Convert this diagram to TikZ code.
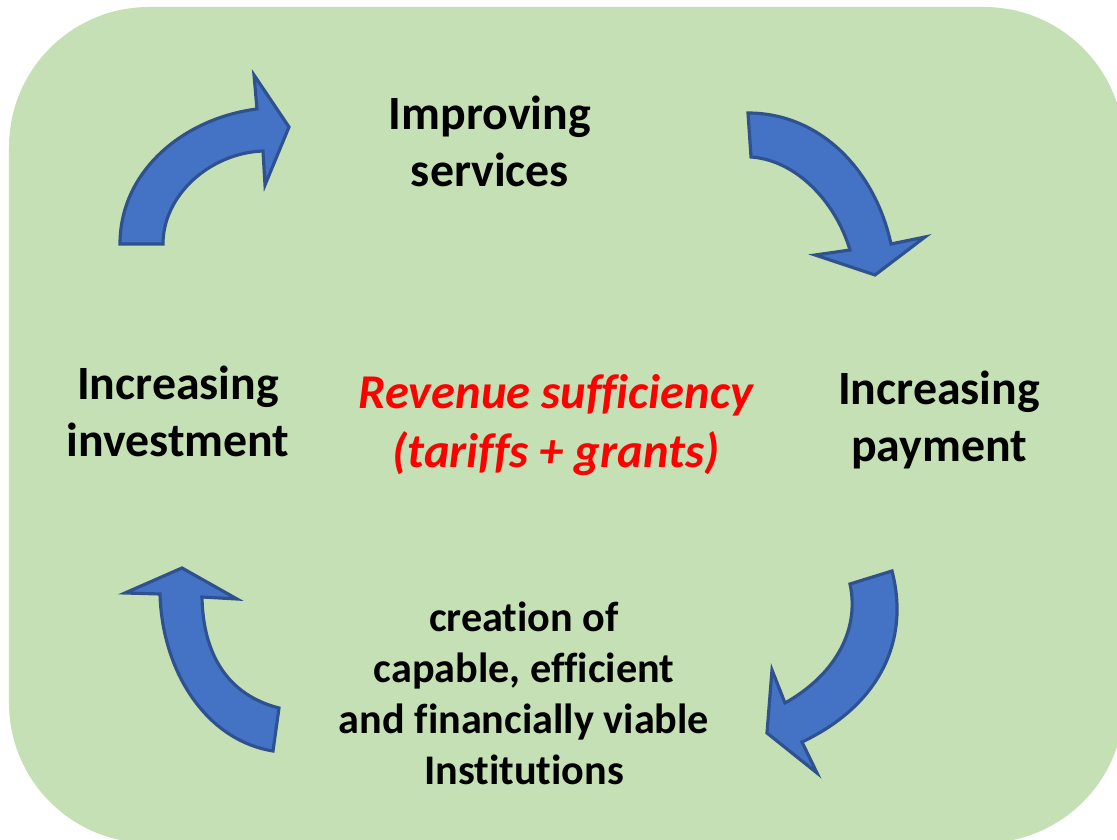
\documentclass[tikz,border=0pt]{standalone}
\usepackage{fontspec}
\setmainfont{Carlito}[Ligatures={NoCommon}]

\definecolor{bggreen}{HTML}{C5E0B4}
\definecolor{arrowblue}{HTML}{4472C4}
\definecolor{arrowedge}{HTML}{2F528F}

\tikzset{
  blockarrow/.style={fill=arrowblue, draw=arrowedge, line width=0.9pt, line join=miter},
  stagetext/.style={align=center, inner sep=0pt, font=\fontsize{13.6}{16.2}\selectfont\bfseries},
  centretext/.style={align=center, inner sep=0pt, text=red, font=\fontsize{13.8}{16.8}\selectfont\bfseries\itshape}
}

\begin{document}
\begin{tikzpicture}[x=0.01cm,y=-0.01cm]
\useasboundingbox (0,0) rectangle (1117,840);
\clip (0,0) rectangle (1117,840);

% background panel
\fill[bggreen, rounded corners=1.4cm] (9,7) rectangle (1124,843);

% the four stages
\node[stagetext] (services) at (490,141) {Improving\\services};
\node[stagetext] (payment) at (939,420) {Increasing\\payment};
\node[stagetext] (investment) at (178,411) {Increasing\\investment};
\node[stagetext, font=\fontsize{12.0}{14.5}\selectfont\bfseries] (institutions) at (524,693)
  {creation of\\capable, efficient\\and financially viable\\Institutions};

\node[centretext] (revenue) at (556,425) {Revenue sufficiency\\(tariffs + grants)};

% curved block arrows
\draw[blockarrow] (120,244) .. controls (120,170) and (185,118) .. (257,109) -- (254,75) -- (289,127)
  -- (265,185) -- (263,151) .. controls (210,153) and (163,195) .. (163,244) -- cycle;

\draw[blockarrow] (748,113) .. controls (820,113) and (875,170) .. (891,244) -- (925,237) -- (875,275)
  -- (815,255) -- (850,250) .. controls (835,200) and (795,160) .. (751,157) -- cycle;

\draw[blockarrow] (892,571) .. controls (910,640) and (880,705) .. (802,742) -- (817,773) -- (767,733)
  -- (772,670) -- (785,703) .. controls (835,675) and (860,630) .. (850,584) -- cycle;

\draw[blockarrow] (273,751) .. controls (205,740) and (162,670) .. (160,594) -- (125,593) -- (182,568)
  -- (237,599) -- (202,597) .. controls (203,655) and (228,695) .. (279,708) -- cycle;

\end{tikzpicture}
\end{document}
